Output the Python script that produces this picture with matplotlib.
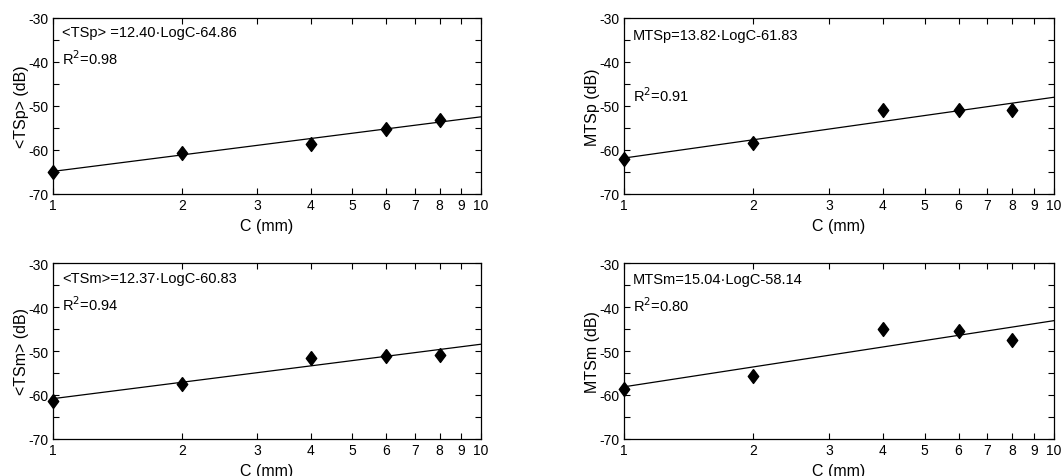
import matplotlib.pyplot as plt
import numpy as np
from matplotlib.ticker import MultipleLocator, FixedLocator, NullLocator

plt.rcParams['font.family'] = ['Liberation Sans', 'DejaVu Sans']
plt.rcParams['axes.unicode_minus'] = False

# 数据
c_mm = [1, 2, 4, 6, 8]
tsp_mean = [-65.0, -60.6, -58.6, -55.2, -53.2]
mtsp = [-62.0, -58.5, -50.9, -50.9, -50.9]
tsm_mean = [-61.3, -57.6, -51.5, -51.1, -51.0]
mtsm = [-58.6, -55.7, -44.9, -45.4, -47.5]

# 拟合系数 (斜率, 截距)
fits = [(12.40, -64.86), (13.82, -61.83), (12.37, -60.83), (15.04, -58.14)]
eq_texts = ['<TSp> =12.40·LogC-64.86', 'MTSp=13.82·LogC-61.83',
            '<TSm>=12.37·LogC-60.83', 'MTSm=15.04·LogC-58.14']
r2_texts = ['R$^2$=0.98', 'R$^2$=0.91', 'R$^2$=0.94', 'R$^2$=0.80']
ylabels = ['<TSp> (dB)', 'MTSp (dB)', '<TSm> (dB)', 'MTSm (dB)']
series = [tsp_mean, mtsp, tsm_mean, mtsm]

W, H = 1064, 477
fig = plt.figure(figsize=(W / 100, H / 100), dpi=100)

# 各子图位置 (像素: left, top, right, bottom)
boxes = [(53, 19, 481, 195), (624, 19, 1054, 195),
         (53, 264, 481, 440), (624, 264, 1054, 440)]
# 文字的y位置 (数据坐标)
eq_y = [-33.2, -33.9, -33.5, -33.7]
r2_y = [-39.0, -47.5, -39.2, -39.5]

# MATLAB风格的菱形
diamond = [(0, 1), (0.75, 0), (0, -1), (-0.75, 0), (0, 1)]

xfit = np.logspace(0, 1, 100)

for i in range(4):
    l, t, r, b = boxes[i]
    ax = fig.add_axes([l / W, 1 - b / H, (r - l) / W, (b - t) / H])
    ax.set_xscale('log')
    ax.set_xlim(1, 10)
    ax.set_ylim(-70, -30)
    a, k = fits[i]
    ax.plot(xfit, a * np.log10(xfit) + k, color='black', lw=0.9)
    ax.plot(c_mm, series[i], linestyle='none', marker=diamond, color='black',
            markersize=10, clip_on=False)

    ax.xaxis.set_major_locator(FixedLocator(range(1, 11)))
    ax.xaxis.set_minor_locator(NullLocator())
    ax.set_xticklabels([str(v) for v in range(1, 11)])
    ax.yaxis.set_major_locator(MultipleLocator(10))
    ax.yaxis.set_minor_locator(MultipleLocator(5))
    ax.tick_params(which='both', direction='in', top=True, right=True,
                   labelsize=10, width=0.8, pad=3, length=4)
    for s in ax.spines.values():
        s.set_linewidth(0.9)

    ax.set_xlabel('C (mm)', fontsize=11.5, labelpad=4)
    ax.set_ylabel(ylabels[i], fontsize=11.5, labelpad=0)

    ax.text(1.05, eq_y[i], eq_texts[i], fontsize=10.5, va='center', ha='left')
    ax.text(1.05, r2_y[i], r2_texts[i], fontsize=10.5, va='center', ha='left')

fig.savefig('out.png', dpi=100)
